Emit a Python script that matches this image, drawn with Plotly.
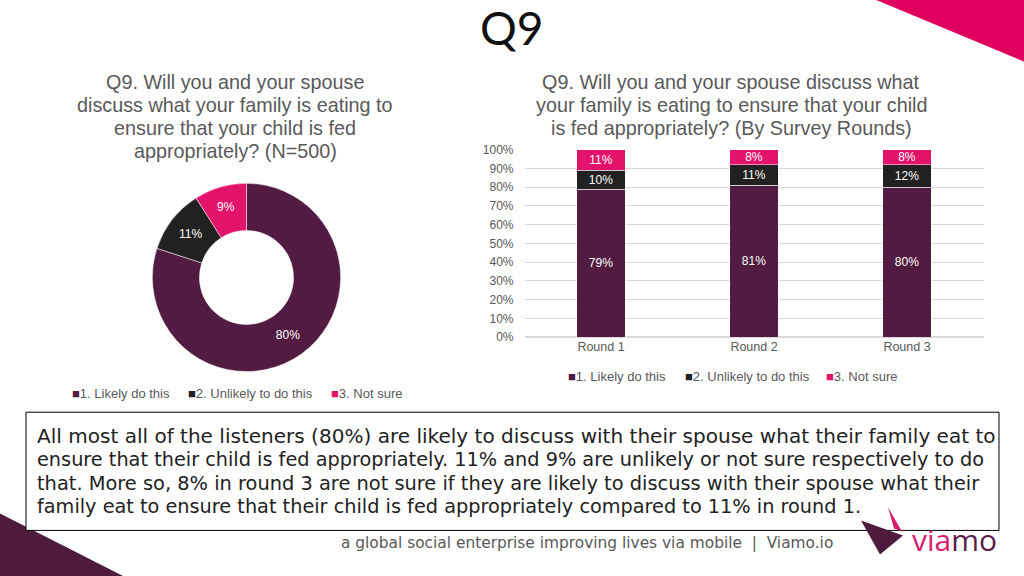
import plotly.graph_objects as go

W, H = 1024, 576

# ---- data ----
categories = ["1. Likely do this", "2. Unlikely to do this", "3. Not sure"]
overall_values = [80, 11, 9]
rounds = ["Round 1", "Round 2", "Round 3"]
likely = [79, 81, 80]
unlikely = [10, 11, 12]
not_sure = [11, 8, 8]
y_ticks = [0, 10, 20, 30, 40, 50, 60, 70, 80, 90, 100]
y_tick_labels = [f"{v}%" for v in y_ticks]

colors = ["#521B41", "#212121", "#E3136C"]
grey = "#595959"

# the photographed page maps page-y to picture-y as  y_pic = 7.5 + 0.974 * y_page
Y_OFF, Y_SCALE = 7.5, 0.974

def px(x):
    return x / W

def page_y(y):
    return (y - Y_OFF) / Y_SCALE

def py(y):
    return 1 - page_y(y) / H

fig = go.Figure()

# Donut
cx, cy, r = 246.5, 277.5, 96.5
cyp = page_y(cy)
fig.add_trace(go.Pie(
    labels=categories, values=overall_values, hole=0.5, sort=False,
    direction="clockwise", rotation=0,
    marker=dict(colors=colors, line=dict(color="white", width=0.5)),
    texttemplate="%{value}%", textposition="inside",
    insidetextorientation="horizontal",
    textfont=dict(color="white", size=12, family="Liberation Sans"),
    domain=dict(x=[px(cx - r), px(cx + r)], y=[1 - (cyp + r) / H, 1 - (cyp - r) / H]),
    showlegend=False, hoverinfo="label+percent",
))

# Stacked bars
for name, vals, col in zip(categories, [likely, unlikely, not_sure], colors):
    fig.add_trace(go.Bar(
        x=rounds, y=vals, name=name, marker=dict(color=col, line=dict(color="white", width=0.5)),
        text=[f"{v}%" for v in vals], textposition="inside", insidetextanchor="middle",
        constraintext="none",
        textfont=dict(color="white", size=12, family="Liberation Sans"),
        textangle=0, showlegend=False,
    ))

fig.update_layout(
    width=W, height=H, margin=dict(l=0, r=0, t=0, b=0),
    paper_bgcolor="white", plot_bgcolor="white",
    barmode="stack", bargap=0.686,
    font=dict(family="Liberation Sans", color=grey),
    xaxis=dict(domain=[px(524.5), px(983.5)], showgrid=False, showline=False,
               tickfont=dict(size=12.5, color=grey), ticks=""),
    yaxis=dict(domain=[py(337), py(150)], range=[0, 100], tickvals=y_ticks,
               ticktext=y_tick_labels, showgrid=True, gridcolor="#D9D9D9", gridwidth=1,
               zeroline=True, zerolinecolor="#D9D9D9", showline=False,
               tickfont=dict(size=12, color=grey), ticklabelstandoff=10),
)

shapes = []
# corner triangles
shapes.append(dict(type="path", xref="paper", yref="paper",
                   path=f"M {px(875)},{py(0)} L {px(1024)},{py(0)} L {px(1024)},{py(62)} Z",
                   fillcolor="#E0005F", line=dict(width=0), layer="below"))
shapes.append(dict(type="path", xref="paper", yref="paper",
                   path=f"M {px(0)},{py(513)} L {px(124)},{py(576)} L {px(0)},{py(576)} Z",
                   fillcolor="#4E1B3C", line=dict(width=0), layer="below"))
# text box
shapes.append(dict(type="rect", xref="paper", yref="paper",
                   x0=px(26), x1=px(999), y0=py(530), y1=py(412),
                   fillcolor="white", line=dict(color="black", width=1)))
# logo
shapes.append(dict(type="path", xref="paper", yref="paper",
                   path=f"M {px(888)},{py(507)} L {px(902)},{py(531)} L {px(894)},{py(528)} Z",
                   fillcolor="#D91C6E", line=dict(width=0)))
shapes.append(dict(type="path", xref="paper", yref="paper",
                   path=f"M {px(861)},{py(520)} L {px(903)},{py(535)} L {px(880)},{py(554)} Z",
                   fillcolor="#4E1B3C", line=dict(width=0)))
fig.update_layout(shapes=shapes)

ann = []
def text(x, y, s, size, color=grey, family="Liberation Sans", xanchor="center"):
    ann.append(dict(x=px(x), y=py(y), xref="paper", yref="paper", text=s,
                    showarrow=False, xanchor=xanchor, yanchor="middle",
                    font=dict(size=size, color=color, family=family)))

text(512, 28, "Q9", 46, color="#111111", family="Lato")

# donut title
for i, line in enumerate(["Q9. Will you and your spouse",
                          "discuss what your family is eating to",
                          "ensure that your child is fed",
                          "appropriately? (N=500)"]):
    text(235, 82 + i * 23.2, line, 19.8)
# bar title
for i, line in enumerate(["Q9. Will you and your spouse discuss what",
                          "your family is eating to ensure that your child",
                          "is fed appropriately? (By Survey Rounds)"]):
    text(731, 82 + i * 23.2, line, 19.8)

# legends
def legend(xs, y):
    for x, c, col in zip(xs, categories, colors):
        ann.append(dict(x=px(x), y=py(y), xref="paper", yref="paper",
                        text=f"<span style='color:{col}'>■</span>{c}", showarrow=False,
                        xanchor="left", yanchor="middle",
                        font=dict(size=13, color=grey, family="Liberation Sans")))
legend([70, 186, 329], 393)
legend([566, 683, 824], 376)

body_lines = [
    "All most all of the listeners (80%) are likely to discuss with their spouse what their family eat to",
    "ensure that their child is fed appropriately. 11% and 9% are unlikely or not sure respectively to do",
    "that. More so, 8% in round 3 are not sure if they are likely to discuss with their spouse what their",
    "family eat to ensure that their child is fed appropriately compared to 11% in round 1.",
]
body_sizes = [20.05, 19.3, 19.4, 19.3]
for i, (line, sz) in enumerate(zip(body_lines, body_sizes)):
    text(35, 436 + i * 23.5, line, sz, color="#222222", family="DejaVu Sans", xanchor="left")

text(587, 543, "a global social enterprise improving lives via mobile  |  Viamo.io", 15.4,
     color=grey, family="DejaVu Sans")

ann.append(dict(x=px(910), y=py(539), xref="paper", yref="paper",
                text="<span style='color:#D91C6E'>via</span><span style='color:#5A1E4A'>mo</span>",
                showarrow=False, xanchor="left", yanchor="middle",
                font=dict(size=30, family="Open Sans")))

fig.update_layout(annotations=ann)

post = (
    "document.documentElement.style.margin='0';"
    "document.documentElement.style.overflow='hidden';"
    "document.body.style.margin='0';document.body.style.padding='0';"
    "document.body.style.overflow='hidden';"
    "var gd=document.getElementsByClassName('plotly-graph-div')[0];"
    "gd.style.position='absolute';gd.style.top='0px';gd.style.left='0px';"
)
fig.write_html("out.html", config={"displayModeBar": False}, post_script=post)
